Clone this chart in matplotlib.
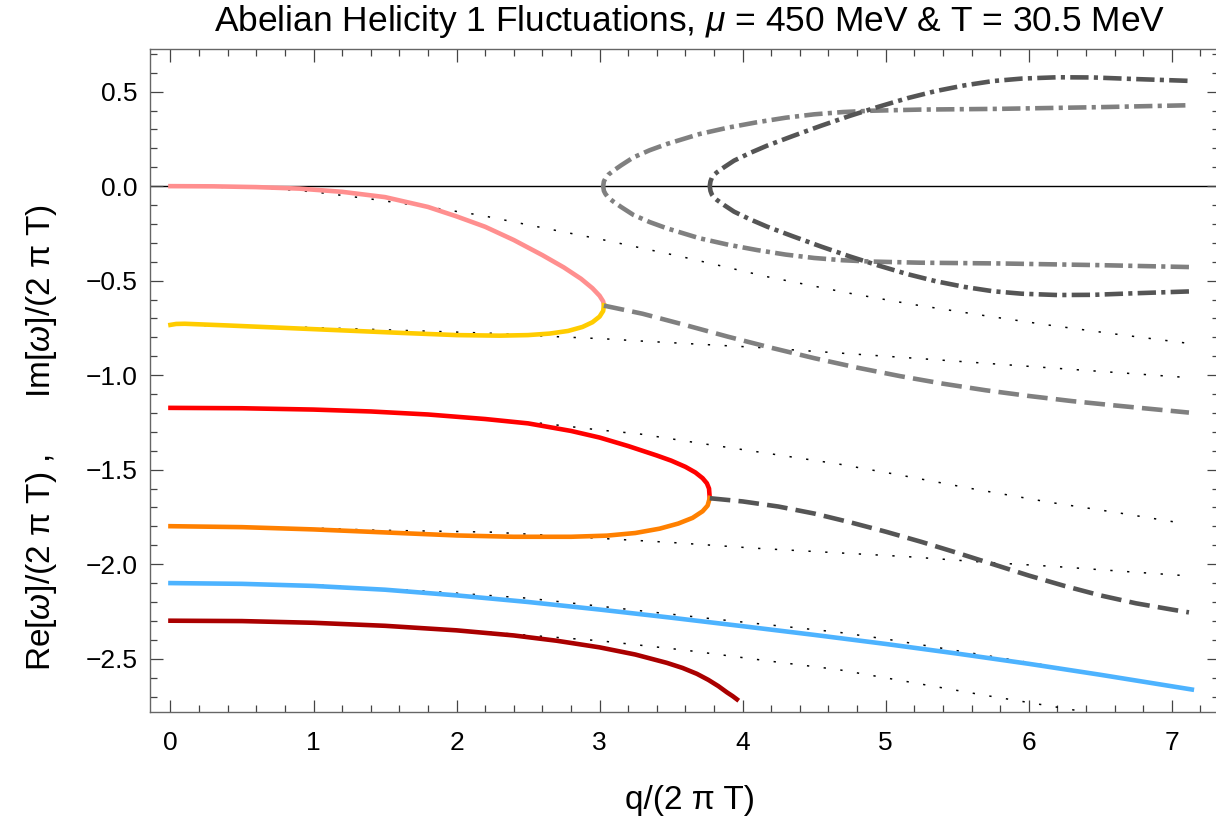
import numpy as np
import matplotlib
matplotlib.use('Agg')
import matplotlib.pyplot as plt
from matplotlib.ticker import MultipleLocator, FuncFormatter

plt.rcParams['font.family'] = ['Liberation Sans', 'DejaVu Sans']
plt.rcParams['mathtext.fontset'] = 'custom'
plt.rcParams['mathtext.rm'] = 'Liberation Sans'
plt.rcParams['mathtext.it'] = 'Liberation Sans:italic'

# --- data: q/(2 pi T) and omega/(2 pi T) ---
# first pair of modes (Im), meeting at q ~ 3.03
pink_q = [0, 0.3, 0.6, 0.9, 1.2, 1.5, 1.8, 2.0, 2.2, 2.4, 2.6, 2.75, 2.87, 2.95, 3.0, 3.025, 3.03]
pink_y = [0, -0.001, -0.005, -0.013, -0.03, -0.058, -0.11, -0.16, -0.215, -0.285, -0.365,
          -0.43, -0.49, -0.54, -0.58, -0.61, -0.63]
yellow_q = [0, 0.04, 0.1, 0.4, 0.8, 1.2, 1.6, 2.0, 2.3, 2.5, 2.65, 2.78, 2.88, 2.95, 3.0, 3.025, 3.03]
yellow_y = [-0.734, -0.729, -0.728, -0.737, -0.75, -0.763, -0.776, -0.788, -0.791, -0.788,
            -0.78, -0.766, -0.745, -0.72, -0.69, -0.66, -0.63]
gray_im_q = [3.03, 3.3, 3.6, 3.9, 4.2, 4.5, 4.8, 5.1, 5.4, 5.7, 6.0, 6.3, 6.6, 6.9, 7.12]
gray_im_y = [-0.632, -0.675, -0.735, -0.797, -0.855, -0.91, -0.96, -1.005, -1.045, -1.08,
             -1.11, -1.137, -1.16, -1.182, -1.198]
gray_re_q = [3.025, 3.03, 3.04, 3.06, 3.097, 3.15, 3.236, 3.35, 3.47, 3.7, 3.9, 4.1, 4.3, 4.5,
             4.7, 4.9, 5.24, 5.8, 6.5, 7.12]
gray_re_y = [0, 0.025, 0.04, 0.06, 0.082, 0.11, 0.152, 0.19, 0.223, 0.276, 0.31, 0.338, 0.362,
             0.38, 0.392, 0.399, 0.405, 0.409, 0.418, 0.428]

# second pair of modes, meeting at q ~ 3.77
red_q = [0, 0.5, 1.0, 1.4, 1.8, 2.2, 2.5, 2.8, 3.0, 3.2, 3.4, 3.5, 3.6, 3.67, 3.72, 3.75,
         3.765, 3.77]
red_y = [-1.173, -1.175, -1.182, -1.192, -1.208, -1.232, -1.255, -1.295, -1.33, -1.375,
         -1.425, -1.452, -1.485, -1.515, -1.545, -1.572, -1.6, -1.65]
orange_q = [0, 0.5, 1.0, 1.5, 2.0, 2.4, 2.8, 3.05, 3.25, 3.42, 3.55, 3.65, 3.72, 3.755, 3.77]
orange_y = [-1.799, -1.804, -1.816, -1.832, -1.848, -1.855, -1.855, -1.849, -1.835, -1.812,
            -1.785, -1.755, -1.72, -1.69, -1.65]
dark_im_q = [3.77, 4.0, 4.25, 4.5, 4.75, 5.0, 5.25, 5.5, 5.75, 6.0, 6.25, 6.5, 6.75, 7.0, 7.12]
dark_im_y = [-1.651, -1.668, -1.695, -1.732, -1.778, -1.828, -1.882, -1.94, -2.0, -2.06,
             -2.115, -2.165, -2.207, -2.24, -2.255]
dark_re_q = [3.77, 3.775, 3.785, 3.8, 3.82, 3.87, 3.94, 4.05, 4.17, 4.35, 4.55, 4.75, 4.95,
             5.15, 5.35, 5.55, 5.75, 5.95, 6.2, 6.45, 6.73, 7.12]
dark_re_y = [0, 0.025, 0.045, 0.06, 0.073, 0.10, 0.135, 0.175, 0.214, 0.265, 0.32, 0.372, 0.42,
             0.465, 0.503, 0.533, 0.556, 0.569, 0.576, 0.575, 0.567, 0.557]

# single modes
blue_q = [0, 0.5, 1.0, 1.5, 2.0, 2.5, 3.0, 3.5, 4.0, 4.5, 5.0, 5.5, 6.0, 6.5, 7.14]
blue_y = [-2.100, -2.104, -2.115, -2.135, -2.165, -2.2, -2.24, -2.283, -2.328, -2.374, -2.422,
          -2.473, -2.527, -2.585, -2.663]
darkred_q = [0, 0.5, 1.0, 1.5, 2.0, 2.4, 2.7, 3.0, 3.25, 3.47, 3.58, 3.68, 3.76, 3.83, 3.89,
             3.93, 3.96]
darkred_y = [-2.299, -2.301, -2.31, -2.326, -2.35, -2.377, -2.405, -2.44, -2.478, -2.522,
             -2.549, -2.58, -2.612, -2.645, -2.678, -2.698, -2.715]

# dotted approximations
dot1_q = [0, 0.7, 1.0, 1.4, 1.8, 2.17, 2.6, 3.02, 3.59, 4.17, 4.75, 5.19, 5.7, 6.13, 6.6, 7.12]
dot1_y = [0, -0.012, -0.03, -0.068, -0.11, -0.154, -0.22, -0.283, -0.376, -0.479, -0.567,
          -0.626, -0.686, -0.734, -0.782, -0.832]
dot2_q = [0, 0.5, 0.94, 1.5, 2.23, 2.69, 3.04, 3.28, 4.10, 5.14, 6.20, 7.12]
dot2_y = [-0.734, -0.74, -0.747, -0.76, -0.778, -0.796, -0.808, -0.819, -0.853, -0.907,
          -0.964, -1.013]
dot3_q = [0, 1.0, 1.6, 2.12, 2.6, 3.0, 3.28, 3.7, 4.17, 4.67, 5.11, 5.6, 6.15, 6.6, 7.08]
dot3_y = [-1.17, -1.18, -1.2, -1.228, -1.255, -1.29, -1.311, -1.36, -1.413, -1.47, -1.53,
          -1.60, -1.673, -1.725, -1.784]
dot4_q = [0, 0.5, 1.04, 1.42, 2.23, 2.6, 3.0, 3.5, 4.10, 4.67, 5.15, 5.7, 6.20, 6.7, 7.12]
dot4_y = [-1.799, -1.803, -1.81, -1.82, -1.83, -1.845, -1.863, -1.885, -1.916, -1.94, -1.96,
          -1.99, -2.013, -2.04, -2.062]
dot5_q = [0, 1.0, 1.86, 2.5, 3.14, 3.8, 4.67, 5.01, 5.71, 6.4, 7.12]
dot5_y = [-2.10, -2.11, -2.146, -2.18, -2.234, -2.29, -2.36, -2.397, -2.484, -2.57, -2.66]
dot6_q = [0, 1.0, 1.6, 2.23, 3.0, 3.6, 4.17, 4.67, 5.11, 5.68, 6.29, 6.45]
dot6_y = [-2.30, -2.31, -2.33, -2.36, -2.405, -2.455, -2.511, -2.558, -2.616, -2.692, -2.768,
          -2.79]

title = r'Abelian Helicity 1 Fluctuations, $\mu$ = 450 MeV & T = 30.5 MeV'
xlabel = 'q/(2 π T)'
ylabel = r'Re[$\omega$]/(2 π T) ,      Im[$\omega$]/(2 π T)'

W, H = 1216, 822
fig = plt.figure(figsize=(W / 100, H / 100), dpi=100)
ax = fig.add_axes([150 / W, 1 - 712 / H, (1219 - 150) / W, (712 - 49.3) / H])

dotted = dict(color='black', lw=1.1, ls=(0, (1.5, 9.5)), zorder=2)
for qq, yy in [(dot1_q, dot1_y), (dot2_q, dot2_y), (dot3_q, dot3_y),
               (dot4_q, dot4_y), (dot5_q, dot5_y), (dot6_q, dot6_y)]:
    ax.plot(qq, yy, **dotted)

ax.axhline(0, color='black', lw=1.0, zorder=1)

lw = 3.3
dash = (0, (4.5, 1.8))
dashdot = (0, (4.0, 1.15, 0.9, 1.15))
ax.plot(pink_q, pink_y, color='#ff8f8f', lw=lw, zorder=3)
ax.plot(yellow_q, yellow_y, color='#ffcc00', lw=lw, zorder=3)
ax.plot(red_q, red_y, color='#ff0000', lw=lw, zorder=3)
ax.plot(orange_q, orange_y, color='#ff8000', lw=lw, zorder=3)
ax.plot(blue_q, blue_y, color='#4db3ff', lw=lw, zorder=3)
ax.plot(darkred_q, darkred_y, color='#aa0000', lw=lw, zorder=3)

ax.plot(gray_im_q, gray_im_y, color='#808080', lw=lw, ls=dash, dash_capstyle='butt', zorder=3)
ax.plot(dark_im_q, dark_im_y, color='#555555', lw=lw, ls=dash, dash_capstyle='butt', zorder=3)

gq = gray_re_q[::-1] + gray_re_q
gy = [-v for v in gray_re_y[::-1]] + gray_re_y
ax.plot(gq, gy, color='#808080', lw=lw, ls=dashdot, dash_capstyle='butt', zorder=3)
dq = dark_re_q[::-1] + dark_re_q
dy = [-v for v in dark_re_y[::-1]] + dark_re_y
ax.plot(dq, dy, color='#555555', lw=lw, ls=dashdot, dash_capstyle='butt', zorder=3)

ax.set_xlim(-0.143, 7.33)
ax.set_ylim(-2.782, 0.724)
ax.xaxis.set_major_locator(MultipleLocator(1))
ax.xaxis.set_minor_locator(MultipleLocator(0.2))
ax.yaxis.set_major_locator(MultipleLocator(0.5))
ax.yaxis.set_minor_locator(MultipleLocator(0.1))
ax.yaxis.set_major_formatter(FuncFormatter(lambda v, p: f'{v:.1f}'.replace('-', '\u2212')))

for s in ax.spines.values():
    s.set_color('#666666')
    s.set_linewidth(1.0)
ax.tick_params(which='both', direction='in', top=True, right=True, color='#444444',
               labelsize=19, width=0.9)
ax.tick_params(which='major', length=9)
ax.tick_params(which='minor', length=5)
ax.tick_params(axis='x', pad=14)
ax.tick_params(axis='y', pad=9)

fig.text(690 / W, 1 - 22 / H, title, fontsize=25.5, ha='center', va='center')
fig.text(690 / W, 1 - 800 / H, xlabel, fontsize=24, ha='center', va='center')
fig.text(42 / W, 1 - 437 / H, ylabel, fontsize=24, ha='center', va='center', rotation=90)

fig.savefig('out.png', dpi=100)
